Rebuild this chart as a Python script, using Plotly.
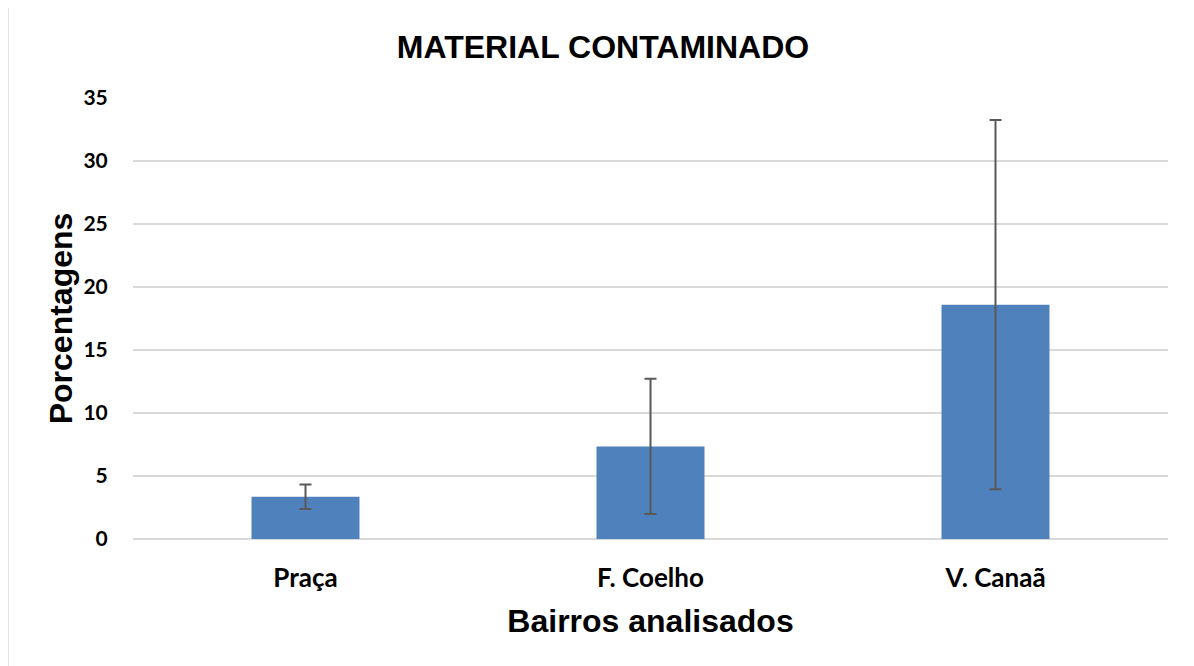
import plotly.graph_objects as go

categories = ["Praça", "F. Coelho", "V. Canaã"]
values = [3.35, 7.35, 18.6]
errors = [0.97, 5.37, 14.65]
y_ticks = [0, 5, 10, 15, 20, 25, 30, 35]

# the page body adds an 8px offset; plot area sits at x 133..1168, y 98..539 on screen
fig = go.Figure()
fig.add_trace(go.Bar(
    x=categories, y=values,
    marker=dict(color="#4F81BD", line=dict(width=0)),
    error_y=dict(type="data", array=errors, visible=True,
                 color="#595959", thickness=2, width=6),
))

fig.update_layout(
    width=1194, height=666,
    margin=dict(l=125, r=34, t=90, b=135),
    paper_bgcolor="white", plot_bgcolor="white",
    bargap=0.687,
    showlegend=False,
    title=dict(text="MATERIAL CONTAMINADO", x=(603 - 8) / 1194, xref="container", xanchor="center",
               y=1 - 39 / 666, yref="container", yanchor="middle",
               font=dict(family="Liberation Sans, Arial", size=32, color="black", weight="bold")),
    xaxis=dict(
        showgrid=False, zeroline=False, showline=False,
        tickfont=dict(family="Lato", size=26, color="black", weight="bold"),
        ticks="outside", ticklen=16, tickcolor="white",
        title=dict(text="Bairros analisados", standoff=17,
                   font=dict(family="Liberation Sans, Arial", size=32, color="black", weight="bold")),
    ),
    yaxis=dict(
        range=[0, 35], tickvals=y_ticks,
        showgrid=True, gridcolor="#D9D9D9", gridwidth=1.5,
        zeroline=True, zerolinecolor="#D9D9D9", zerolinewidth=1.5,
        showline=False,
        tickfont=dict(family="Lato", size=21, color="black", weight="bold"),
        ticks="outside", ticklen=20, tickcolor="white",
        title=dict(text="Porcentagens", standoff=1,
                   font=dict(family="Liberation Sans, Arial", size=32, color="black", weight="bold")),
    ),
    shapes=[dict(type="rect", xref="paper", yref="paper",
                 x0=(8 - 133) / 1035, x1=(1300 - 133) / 1035,
                 y0=(539 - 700) / 441, y1=(539 - 7) / 441,
                 line=dict(color="#D9D9D9", width=1.5), fillcolor="rgba(0,0,0,0)",
                 layer="below")],
)

fig.write_html("out.html")
